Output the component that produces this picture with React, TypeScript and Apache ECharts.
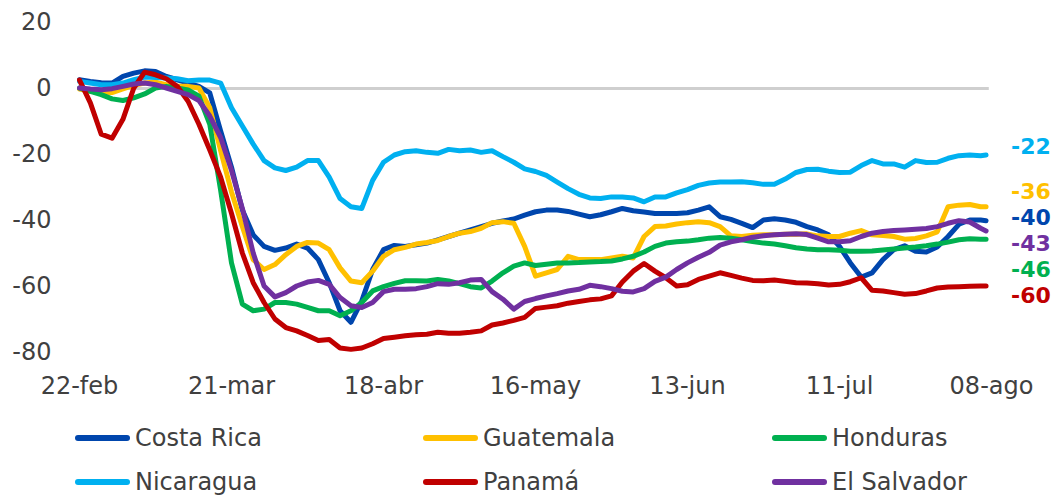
import React, { useEffect, useRef } from "react";
import * as echarts from "echarts";

// Day offsets from 22-feb (0) to 07-ago (167)
const days: number[] = [];
for (let d = 0; d <= 166; d += 2) days.push(d);
days.push(167);

const xTickLabels = ["22-feb", "21-mar", "18-abr", "16-may", "13-jun", "11-jul", "08-ago"];

const seriesNames = ["Costa Rica", "Guatemala", "Honduras", "Nicaragua", "Panamá", "El Salvador"];
const seriesColors = ["#0046AD", "#FFC000", "#00B050", "#00B0F0", "#C00000", "#7030A0"];

const costaRica = [
  2.5, 2, 1.6, 1.5, 3.5, 4.5, 5.2, 5, 3.5, 2.5,
  1.5, 0.5, -1.5, -13, -24, -37, -44.5, -48, -49.2, -48.5,
  -47.3, -48.5, -52, -59, -67.5, -71, -64.5, -55, -49, -47.7,
  -48, -47.5, -47, -46, -45, -44, -43, -42, -41, -40.3,
  -39.7, -38.5, -37.5, -37, -37, -37.4, -38.2, -39, -38.4, -37.5,
  -36.5, -37.2, -37.6, -38, -38, -38, -37.8, -37, -36, -39,
  -39.8, -41, -42.3, -40, -39.6, -40, -40.7, -42, -43, -44.5,
  -48, -53, -57.3, -56, -52, -49, -47.8, -49.5, -49.7, -48.2,
  -45, -41.3, -40, -40, -40.2,
];

const guatemala = [
  -0.3, -1, -1.3, -1.4, -0.3, 0.8, 1.5, 1.8, 1, 0.5,
  0.5, 0, -6, -19, -31.5, -42, -52, -55, -53.5, -50.5,
  -48, -46.8, -47, -49, -54.5, -58.5, -59, -55.5, -51, -49,
  -48.3, -47.3, -46.8, -46.2, -45, -44, -43.5, -42.5, -40.8, -40.5,
  -41, -48, -57, -56, -55, -51, -52, -52, -52, -51.5,
  -51, -51.5, -45, -42, -41.8, -41.2, -40.8, -40.5, -40.8, -42,
  -44.8, -45, -44.6, -44.5, -44.5, -44.3, -44.3, -44.2, -44.8, -45,
  -45, -44, -43.2, -44.5, -44.7, -45, -45.8, -45.6, -44.8, -43.6,
  -36, -35.5, -35.3, -36, -36,
];

const honduras = [
  0, -1, -2, -3.3, -3.8, -3, -1.8, 0, 0.5, 0,
  -0.6, -2.5, -11, -31, -53, -65.5, -67.5, -67, -65, -65,
  -65.5, -66.5, -67.5, -67.5, -69, -67.5, -65, -61.5, -60.2, -59.2,
  -58.4, -58.4, -58.5, -58, -58.5, -59.3, -60.2, -60.6, -58.5, -56,
  -54, -53, -53.8, -53.4, -53, -53, -52.9, -52.7, -52.6, -52.4,
  -51.8, -51, -49.7, -48, -47, -46.6, -46.4, -46, -45.5, -45.3,
  -45.5, -46, -46.5, -47, -47.3, -47.8, -48.4, -48.8, -49, -49,
  -49.2, -49.5, -49.5, -49.4, -49.1, -48.8, -48.5, -48.2, -47.8, -47.3,
  -46.7, -46, -45.7, -45.8, -45.8,
];

const nicaragua = [
  2, 1.5, 1, 1, 1.5, 2.5, 3.3, 3.2, 3, 2.8,
  2.2, 2.4, 2.4, 1.5, -6, -11.5, -17, -22, -24.2, -25,
  -24, -22, -22, -27, -33.5, -36, -36.5, -28, -22.5, -20.3,
  -19.3, -19, -19.5, -19.8, -18.6, -19, -18.8, -19.5, -19, -20.8,
  -22.5, -24.5, -25.3, -26.5, -28.5, -30.5, -32.2, -33.3, -33.5, -33,
  -33, -33.3, -34.5, -33, -33, -31.8, -30.8, -29.5, -28.8, -28.5,
  -28.5, -28.4, -28.7, -29.2, -29.2, -27.6, -25.6, -24.7, -24.6, -25.2,
  -25.6, -25.5, -23.5, -22, -23, -23, -24, -22, -22.6, -22.5,
  -21.3, -20.5, -20.3, -20.5, -20.3,
];

const panama = [
  2.4, -4.5, -14, -15.2, -9.5, 0, 4.8, 4, 2.8, 0.5,
  -4, -11, -18.8, -27, -38, -50, -59, -65, -70, -72.6,
  -73.6, -75, -76.5, -76.2, -78.8, -79.2, -78.8, -77.5, -75.9, -75.5,
  -75.1, -74.8, -74.6, -74, -74.3, -74.3, -74, -73.6, -71.8, -71.2,
  -70.4, -69.5, -66.8, -66.4, -66, -65.2, -64.7, -64.2, -63.9, -63,
  -58.8, -55.5, -53.2, -55.5, -57.5, -60, -59.6, -58, -57, -56,
  -56.8, -57.6, -58.3, -58.4, -58.2, -58.6, -59, -59.1, -59.3, -59.7,
  -59.5, -58.7, -57.5, -61.3, -61.5, -62, -62.5, -62.3, -61.5, -60.6,
  -60.3, -60.2, -60.1, -60, -60,
];

const elSalvador = [
  0, -0.3, -0.5, -0.2, 0.5, 1.2, 1.5, 1, 0, -1,
  -2, -3.8, -8.5, -15, -25, -36.5, -50, -60, -63.3, -62,
  -60, -58.8, -58.3, -59.5, -63.5, -66, -66.5, -65, -61.7, -61,
  -61, -60.8, -60.2, -59.3, -59.5, -59, -58.2, -58, -61.7, -64,
  -67, -64.7, -63.8, -63, -62.3, -61.5, -61, -59.8, -60.2, -60.8,
  -61.6, -61.8, -60.8, -58.6, -57.3, -55, -53, -51.3, -49.8, -47.6,
  -46.6, -46, -45.2, -44.8, -44.5, -44.3, -44.2, -44.4, -45.5, -46.6,
  -46.6, -46.3, -45, -44, -43.5, -43.2, -43, -42.8, -42.6, -42,
  -41, -40.2, -40.6, -42.5, -43.3,
];

const seriesValues = [costaRica, guatemala, honduras, nicaragua, panama, elSalvador];

// Final-value annotations (text, series index)
const endLabelTexts = ["-22", "-36", "-40", "-43", "-46", "-60"];
const endLabelSeries = [3, 1, 0, 5, 2, 4];
const endLabelY = [147, 192, 218, 244, 270, 296];

const FONT = "'DejaVu Sans', sans-serif";
const TEXT_COLOR = "#404040";

export default function App() {
  const ref = useRef<HTMLDivElement>(null);

  useEffect(() => {
    if (!ref.current) return;
    const chart = echarts.init(ref.current, undefined, { renderer: "svg" });

    const legendLeft = [75, 423, 772];
    const legendTop = [426, 470];
    const iconPath = "path://M3,0H52A3,3,0,0,1,52,6H3A3,3,0,0,1,3,0Z";

    const option: echarts.EChartsOption = {
      animation: false,
      textStyle: { fontFamily: FONT },
      grid: { left: 79.5, right: 69.5, top: 22, bottom: 143, containLabel: false },
      xAxis: {
        type: "value",
        min: 0,
        max: 168,
        interval: 28,
        axisLine: { show: false },
        axisTick: { show: false },
        splitLine: { show: false },
        axisLabel: {
          fontFamily: FONT,
          fontSize: 24,
          color: TEXT_COLOR,
          margin: 22,
          formatter: (v: number) => xTickLabels[Math.round(v / 28)] ?? "",
        },
      },
      yAxis: {
        type: "value",
        min: -80,
        max: 20,
        interval: 20,
        axisLine: { show: false },
        axisTick: { show: false },
        axisLabel: { fontFamily: FONT, fontSize: 24, color: TEXT_COLOR, margin: 28 },
        splitLine: { show: false },
      },
      legend: seriesNames.map((name, i) => ({
        data: [name],
        left: legendLeft[i % 3],
        top: legendTop[Math.floor(i / 3)],
        padding: 0,
        icon: iconPath,
        itemWidth: 55,
        itemHeight: 6,
        selectedMode: false,
        textStyle: { fontFamily: FONT, fontSize: 24, color: TEXT_COLOR },
      })),
      series: seriesNames.map((name, i) => ({
        name,
        type: "line",
        data: days.map((d, k) => [d, seriesValues[i][k]]),
        showSymbol: false,
        symbol: "none",
        color: seriesColors[i],
        lineStyle: { width: 5, color: seriesColors[i], cap: "round", join: "round" },
        emphasis: { disabled: true },
        silent: true,
        z: 3,
        ...(i === 0
          ? {
              markLine: {
                silent: true,
                z: 1,
                symbol: ["none", "none"],
                label: { show: false },
                animation: false,
                lineStyle: { color: "#CFCFCF", width: 3, type: "solid", opacity: 1 },
                emphasis: { disabled: true },
                data: [[{ coord: [0, 0] }, { coord: [167.5, 0] }]],
              },
            }
          : {}),
      })),
      graphic: endLabelTexts.map((t, j) => ({
        type: "text",
        left: 1011,
        top: endLabelY[j] - 12,
        z: 10,
        style: {
          text: t,
          fill: seriesColors[endLabelSeries[j]],
          font: `bold 22px ${FONT}`,
        },
      })),
    };

    chart.setOption(option);
    return () => chart.dispose();
  }, []);

  return (
    <div
      ref={ref}
      style={{ position: "absolute", left: 0, top: 0, width: 1061, height: 495 }}
    />
  );
}
